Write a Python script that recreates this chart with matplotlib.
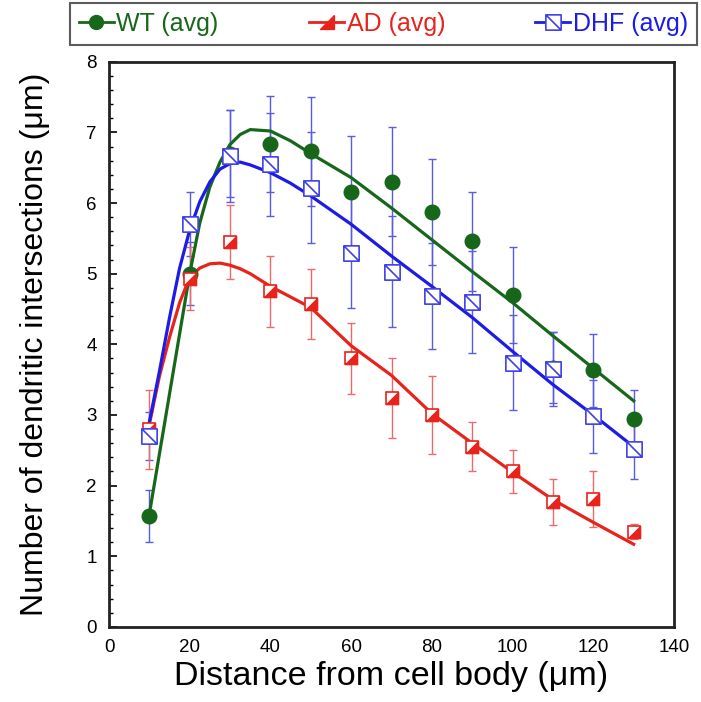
# plot.py
# Sholl analysis: dendritic intersections vs distance from cell body

import matplotlib.pyplot as plt
import numpy as np
from matplotlib.path import Path

plt.rcParams.update({
    "font.family": ["Liberation Sans", "DejaVu Sans"],
    "figure.dpi": 100,
})

# --- DATA ---
dist = [10, 20, 30, 40, 50, 60, 70, 80, 90, 100, 110, 120, 130]

wt_mean = [1.57, 5.00, 6.70, 6.83, 6.73, 6.15, 6.30, 5.88, 5.46, 4.70, 3.67, 3.63, 2.95]
wt_err  = [0.37, 0.45, 0.62, 0.68, 0.77, 0.80, 0.77, 0.75, 0.70, 0.68, 0.50, 0.52, 0.41]

ad_mean = [2.80, 4.93, 5.45, 4.75, 4.57, 3.80, 3.24, 3.00, 2.55, 2.20, 1.77, 1.81, 1.35]
ad_err  = [0.56, 0.45, 0.52, 0.50, 0.50, 0.50, 0.56, 0.55, 0.35, 0.31, 0.33, 0.40, 0.10]

dhf_mean = [2.70, 5.70, 6.67, 6.55, 6.22, 5.30, 5.03, 4.68, 4.60, 3.74, 3.65, 2.98, 2.52]
dhf_err  = [0.34, 0.45, 0.65, 0.73, 0.79, 0.78, 0.79, 0.75, 0.72, 0.67, 0.52, 0.52, 0.42]

# fitted curves
fit_x   = [10, 12.5, 15, 17.5, 20, 22.5, 25, 27.5, 30, 32.5, 35, 40, 45, 50,
           60, 70, 80, 90, 100, 110, 120, 130]
wt_fit  = [1.60, 2.45, 3.30, 4.15, 5.00, 5.72, 6.23, 6.58, 6.83, 6.97, 7.04, 7.02,
           6.88, 6.70, 6.36, 5.93, 5.48, 5.03, 4.59, 4.12, 3.66, 3.20]
ad_fit  = [2.87, 3.55, 4.10, 4.59, 4.95, 5.08, 5.14, 5.15, 5.12, 5.07, 5.00, 4.82,
           4.67, 4.52, 3.98, 3.56, 3.02, 2.60, 2.19, 1.80, 1.48, 1.17]
dhf_fit = [2.90, 3.62, 4.38, 5.08, 5.62, 6.02, 6.30, 6.48, 6.56, 6.58, 6.54, 6.43,
           6.28, 6.10, 5.70, 5.25, 4.82, 4.38, 3.90, 3.43, 3.00, 2.55]

GREEN = "#17671b"
RED   = "#e8231c"
BLUE  = "#1c1ce6"

# custom markers
sq = [(-1, -1), (1, -1), (1, 1), (-1, 1), (-1, -1)]
tri_lr = Path([(1, 1), (1, -1), (-1, -1), (1, 1)])
diag_sq = Path(sq + [(-1, 1), (1, -1)],
               [Path.MOVETO] + [Path.LINETO] * 3 + [Path.CLOSEPOLY]
               + [Path.MOVETO, Path.LINETO])

fig = plt.figure(figsize=(7.01, 7.02))
ax = fig.add_axes([0.1555, 0.107, 0.806, 0.805])

# error bars (WT bars are blue in the original)
ax.errorbar(dist, wt_mean, yerr=wt_err, fmt="none", ecolor="#5b5be0",
            elinewidth=1.0, capsize=3, capthick=1.0, zorder=2)
ax.errorbar(dist, dhf_mean, yerr=dhf_err, fmt="none", ecolor="#5b5be0",
            elinewidth=1.0, capsize=3, capthick=1.0, zorder=2)
ax.errorbar(dist, ad_mean, yerr=ad_err, fmt="none", ecolor="#ee6a66",
            elinewidth=1.0, capsize=3, capthick=1.0, zorder=2)

# fit curves
ax.plot(fit_x, wt_fit, color=GREEN, lw=2.3, zorder=3)
ax.plot(fit_x, ad_fit, color=RED, lw=2.3, zorder=3)
ax.plot(fit_x, dhf_fit, color=BLUE, lw=2.3, zorder=3)

# markers
ax.plot(dist, wt_mean, "o", ms=10.5, color=GREEN, mec=GREEN, zorder=4)
ax.plot(dist, ad_mean, "s", ms=9, mfc="white", mec=RED, mew=1.2, zorder=5)
ax.plot(dist, ad_mean, marker=tri_lr, ls="none", ms=9, mfc=RED, mec=RED,
        mew=0.8, zorder=5)
ax.plot(dist, dhf_mean, marker=diag_sq, ls="none", ms=11, mfc="white",
        mec="#4040e8", mew=1.2, zorder=6)

ax.set_xlim(0, 140)
ax.set_ylim(0, 8)
ax.set_xticks(np.arange(0, 141, 20))
ax.set_yticks(np.arange(0, 9, 1))
ax.set_yticks(np.arange(0, 8.01, 0.2), minor=True)
ax.tick_params(axis="y", which="major", direction="in", length=6, width=1.2,
               labelsize=13.5, pad=9)
ax.tick_params(axis="y", which="minor", direction="in", length=3, width=1)
ax.tick_params(axis="x", length=0, labelsize=13.5, pad=9)
for s in ax.spines.values():
    s.set_linewidth(2)
    s.set_color("#222222")

ax.set_xlabel("Distance from cell body (\u03bcm)", fontsize=24.5, labelpad=3)
ax.set_ylabel("Number of dendritic intersections (\u03bcm)", fontsize=23,
              labelpad=26)

# legend handles
h_wt, = ax.plot([], [], "-o", color=GREEN, lw=2, ms=10)
h_ad, = ax.plot([], [], "-", color=RED, lw=2, marker=tri_lr, ms=10,
                mfc=RED, mec=RED)
h_dhf, = ax.plot([], [], "-", color=BLUE, lw=2, marker=diag_sq, ms=11,
                 mfc="white", mec="#4040e8", mew=1.2)
leg = fig.legend([h_wt, h_ad, h_dhf], ["WT (avg)", "AD (avg)", "DHF (avg)"],
                 loc="lower left", bbox_to_anchor=(0.1, 0.936, 0.894, 0.061),
                 mode="expand", ncol=3, fontsize=18, frameon=True,
                 fancybox=False, edgecolor="#333333", handlelength=1.4,
                 handletextpad=0.1, borderaxespad=0, borderpad=0.35)
leg.get_frame().set_linewidth(1.5)
for t, c in zip(leg.get_texts(), [GREEN, RED, BLUE]):
    t.set_color(c)

plt.savefig("out.png", facecolor="white")
